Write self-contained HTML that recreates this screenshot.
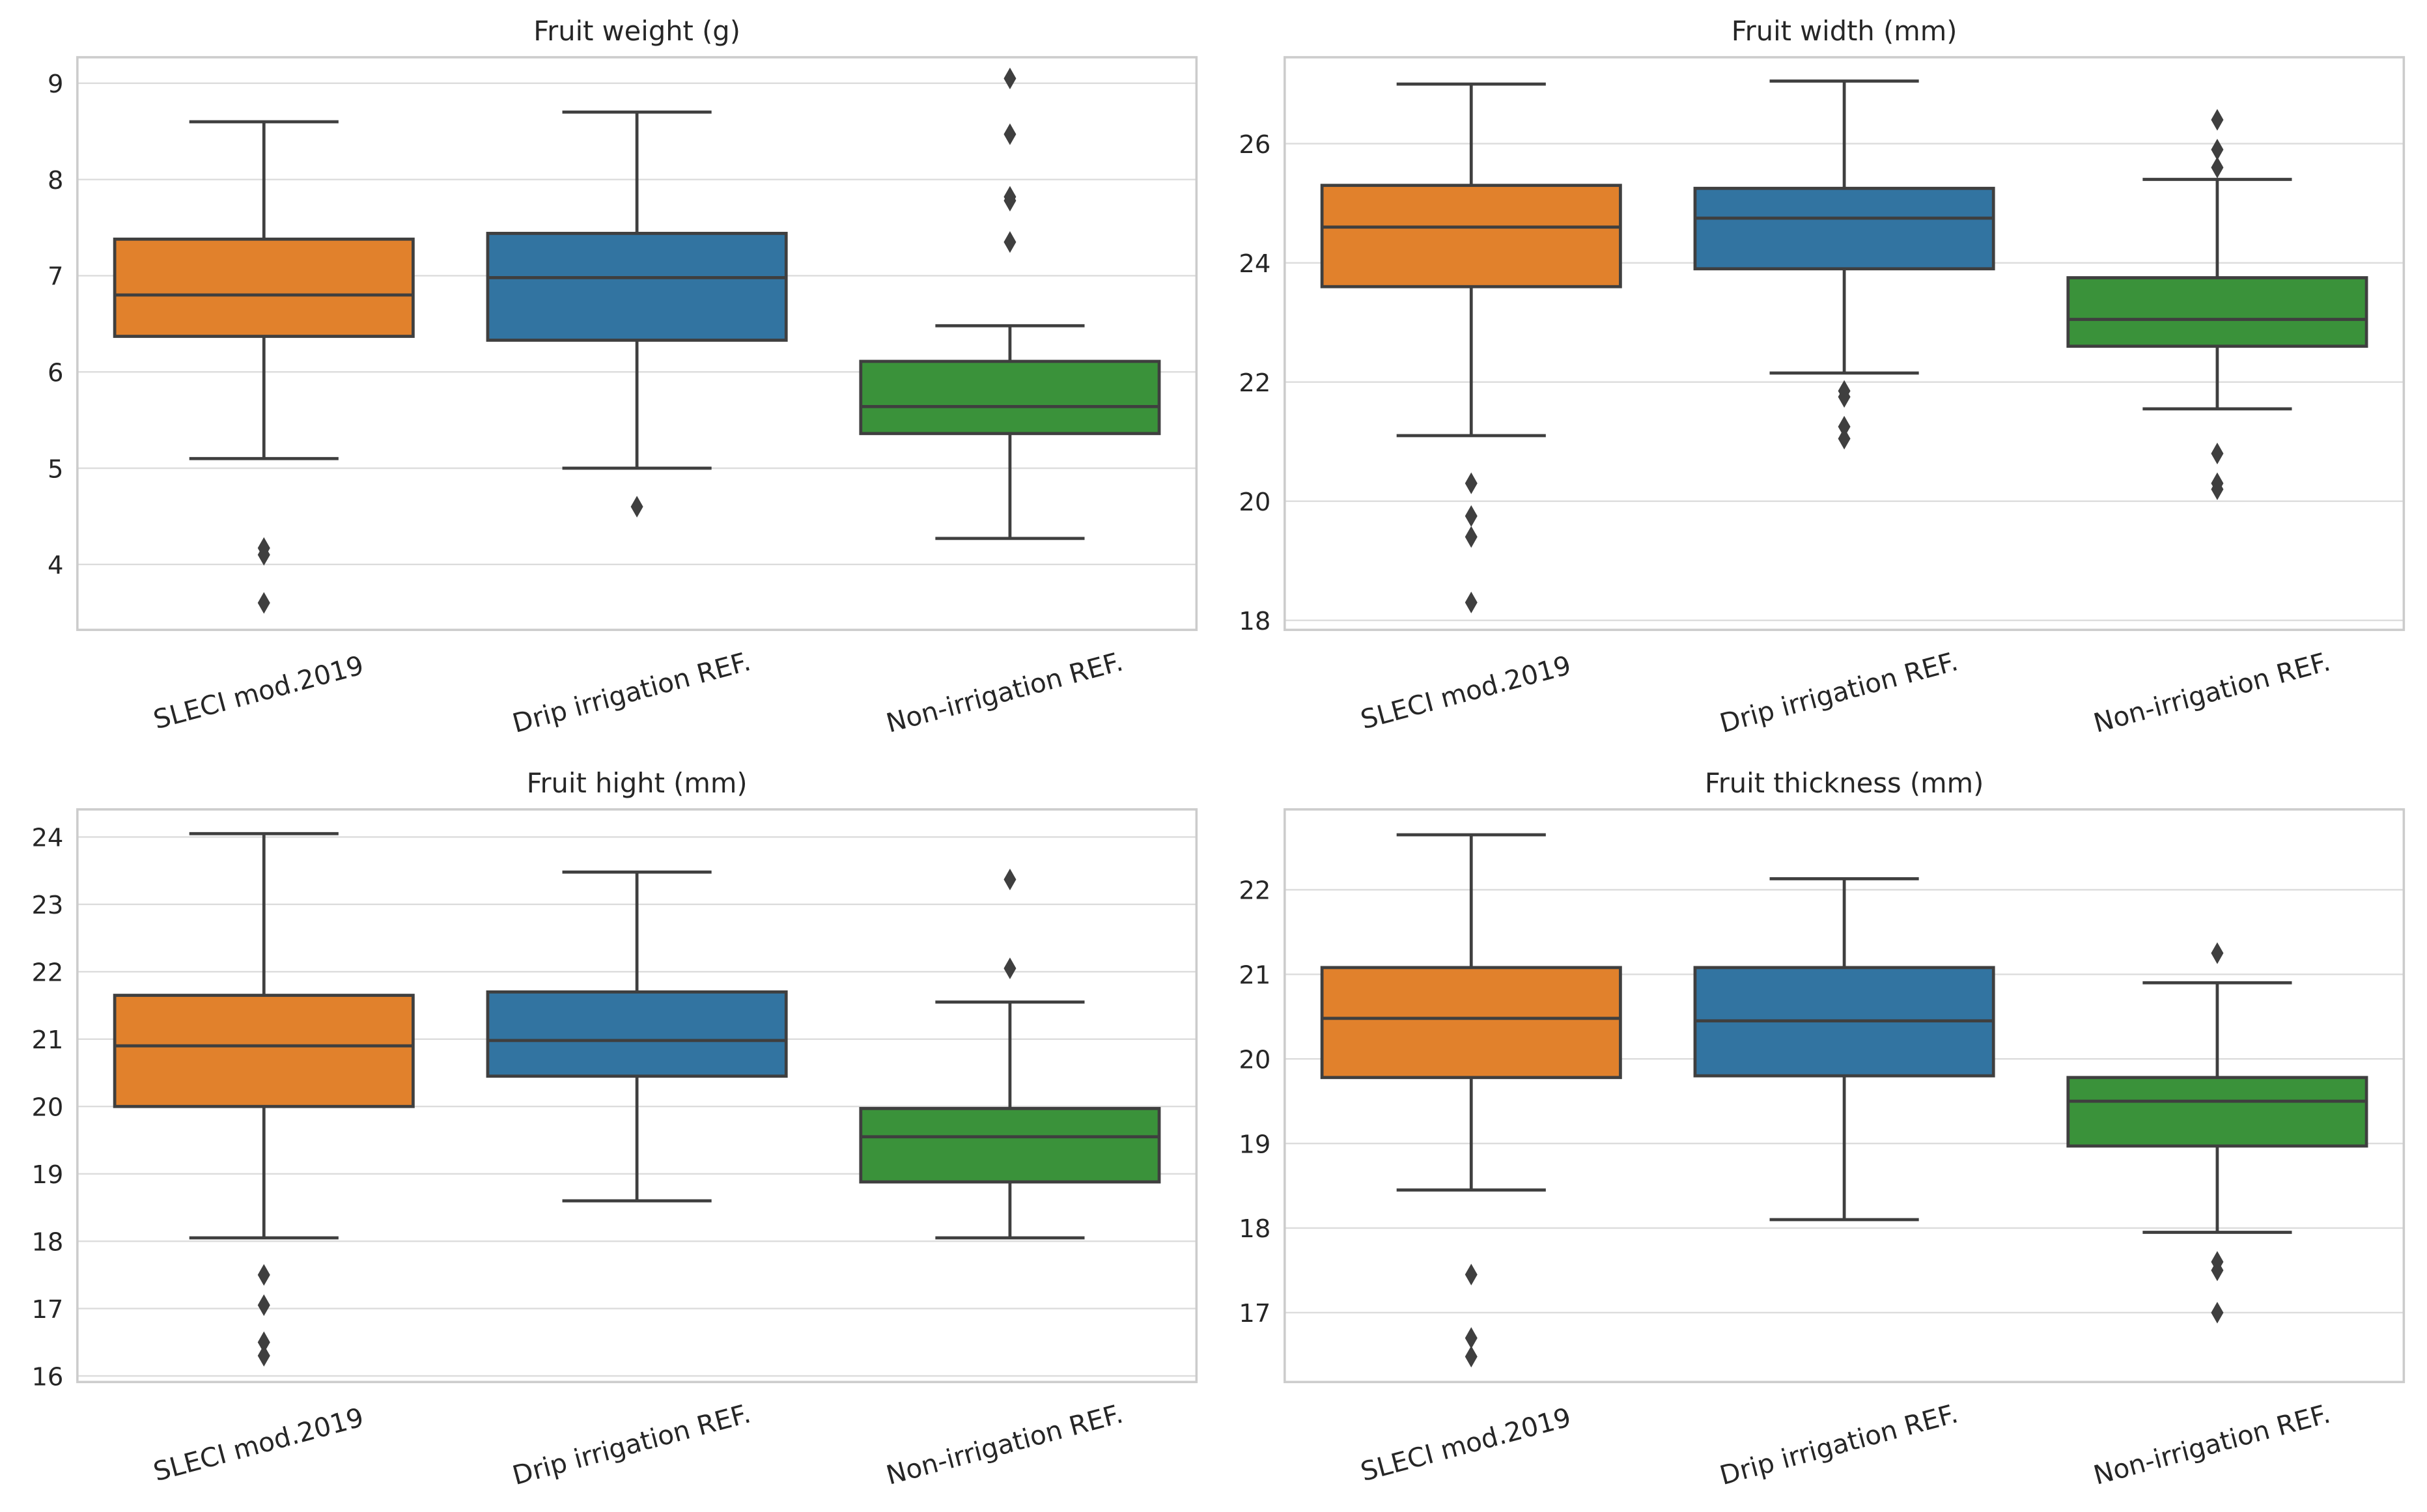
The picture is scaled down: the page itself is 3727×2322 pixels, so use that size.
<!DOCTYPE html>
<html><head><meta charset="utf-8"><style>
html,body{margin:0;padding:0;background:#fff;}
svg{display:block;}
text{font-family:"DejaVu Sans","Liberation Sans",sans-serif;fill:#262626;}
</style></head><body>
<svg id="chart" width="3727" height="2322" viewBox="0 0 1568 977" preserveAspectRatio="none" xmlns="http://www.w3.org/2000/svg"></svg>
<script>
const categories = ["SLECI mod.2019", "Drip irrigation REF.", "Non-irrigation REF."];
const colors = ["#e1812c", "#3274a1", "#3a923a"];
const titles = ["Fruit weight (g)", "Fruit width (mm)", "Fruit hight (mm)", "Fruit thickness (mm)"];
// [whiskerLow, q1, median, q3, whiskerHigh]
const weightStats = [[5.1,6.37,6.8,7.38,8.6],[5.0,6.33,6.98,7.44,8.7],[4.27,5.36,5.64,6.11,6.48]];
const weightOutliers = [[4.17,4.1,3.6],[4.6],[9.05,8.47,7.82,7.78,7.35]];
const widthStats = [[21.1,23.6,24.6,25.3,27.0],[22.15,23.9,24.75,25.25,27.05],[21.55,22.6,23.05,23.75,25.4]];
const widthOutliers = [[20.3,19.75,19.4,18.3],[21.85,21.75,21.25,21.05],[26.4,25.9,25.6,20.8,20.3,20.2]];
const heightStats = [[18.05,20.0,20.9,21.65,24.05],[18.6,20.45,20.98,21.7,23.48],[18.05,18.88,19.55,19.97,21.55]];
const heightOutliers = [[17.5,17.05,16.5,16.3],[],[23.37,22.05]];
const thickStats = [[18.45,19.78,20.48,21.08,22.65],[18.1,19.8,20.45,21.08,22.13],[17.95,18.97,19.5,19.78,20.9]];
const thickOutliers = [[17.45,16.7,16.48],[],[21.25,17.6,17.5,17.0]];
const weightTicks = [4,5,6,7,8,9];
const widthTicks = [18,20,22,24,26];
const heightTicks = [16,17,18,19,20,21,22,23,24];
const thickTicks = [17,18,19,20,21,22];
const weightDomain = [3.32, 9.27];
const widthDomain = [17.84, 27.45];
const heightDomain = [15.91, 24.41];
const thickDomain = [16.18, 22.95];

const panels = [
 {name:"weight", x0:50,x1:773,y0:37,y1:407, stats:weightStats, out:weightOutliers, ticks:weightTicks, dom:weightDomain},
 {name:"width", x0:830,x1:1553,y0:37,y1:407, stats:widthStats, out:widthOutliers, ticks:widthTicks, dom:widthDomain},
 {name:"height", x0:50,x1:773,y0:523,y1:893, stats:heightStats, out:heightOutliers, ticks:heightTicks, dom:heightDomain},
 {name:"thickness", x0:830,x1:1553,y0:523,y1:893, stats:thickStats, out:thickOutliers, ticks:thickTicks, dom:thickDomain}
];
const NS="http://www.w3.org/2000/svg";
const svg=document.getElementById("chart");
function mk(tag,attrs,parent){const e=document.createElementNS(NS,tag);for(const k in attrs)e.setAttribute(k,attrs[k]);(parent||svg).appendChild(e);return e;}
const LC="#3f3f3f";
panels.forEach((p,pi)=>{
  const g=mk("g",{});
  
  
  const y=v=>p.y1-(v-p.dom[0])/(p.dom[1]-p.dom[0])*(p.y1-p.y0);
  const band=(p.x1-p.x0)/categories.length;
  const cx=i=>p.x0+band*(i+0.5);
  p.ticks.forEach(t=>{
    const gl=mk("line",{x1:p.x0,x2:p.x1,y1:y(t),y2:y(t),stroke:"#dcdcdc","stroke-width":1},g);
    
    
    const tl=mk("text",{x:p.x0-9,y:y(t)+6,"text-anchor":"end","font-size":16.2},g);
    tl.textContent=t;
    
    
  });
  const fr=mk("rect",{x:p.x0,y:p.y0,width:p.x1-p.x0,height:p.y1-p.y0,fill:"none",stroke:"#cccccc","stroke-width":1.5},g);
  
  
  const ti=mk("text",{x:(p.x0+p.x1)/2,y:p.y0-11,"text-anchor":"middle","font-size":17.5},g);
  ti.textContent=titles[pi];
  
  
  categories.forEach((c,i)=>{
    const s=p.stats[i], x=cx(i), bw=band*0.8, cw=band*0.4;
    const bg=mk("g",{},g);
    
    
    mk("line",{x1:x,x2:x,y1:y(s[0]),y2:y(s[1]),stroke:LC,"stroke-width":2},bg);
    mk("line",{x1:x,x2:x,y1:y(s[3]),y2:y(s[4]),stroke:LC,"stroke-width":2},bg);
    mk("line",{x1:x-cw/2,x2:x+cw/2,y1:y(s[0]),y2:y(s[0]),stroke:LC,"stroke-width":2},bg);
    mk("line",{x1:x-cw/2,x2:x+cw/2,y1:y(s[4]),y2:y(s[4]),stroke:LC,"stroke-width":2},bg);
    mk("rect",{x:x-bw/2,y:y(s[3]),width:bw,height:y(s[1])-y(s[3]),fill:colors[i],stroke:LC,"stroke-width":2},bg);
    mk("line",{x1:x-bw/2,x2:x+bw/2,y1:y(s[2]),y2:y(s[2]),stroke:LC,"stroke-width":2},bg);
    p.out[i].forEach(v=>{
      const yy=y(v);
      const d=mk("path",{d:`M${x} ${yy-7}L${x+4} ${yy}L${x} ${yy+7}L${x-4} ${yy}Z`,fill:LC},bg);
      
      
    });
    const lab=mk("text",{x:0,y:0,"text-anchor":"middle","font-size":17,transform:`translate(${x-2},${p.y1+46}) rotate(-15)`},g);
    lab.textContent=c;
    
    
  });
});
</script>
</body></html>
